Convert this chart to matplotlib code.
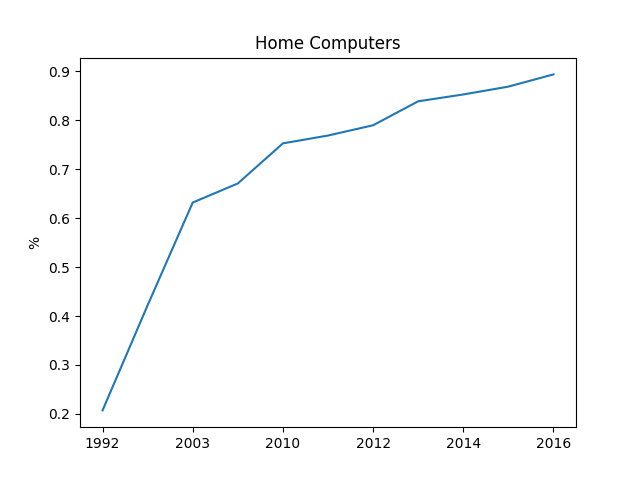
import matplotlib
matplotlib.use("Agg")
import matplotlib.pyplot as plt

# survey years (only every other one is labelled on the axis)
years = ['1992', '1997', '2003', '2007', '2010', '2011', '2012', '2013', '2014', '2015', '2016']
share = [0.207, 0.422, 0.632, 0.671, 0.753, 0.769, 0.790, 0.839, 0.853, 0.869, 0.894]

fig, ax = plt.subplots(figsize=(6.4, 4.8), dpi=100)
pos = list(range(len(years)))
ax.plot(pos, share)
ax.set_xticks(pos[::2])
ax.set_xticklabels(years[::2])
ax.set_ylabel('%')
ax.set_title('Home Computers')
fig.savefig('out.png')
